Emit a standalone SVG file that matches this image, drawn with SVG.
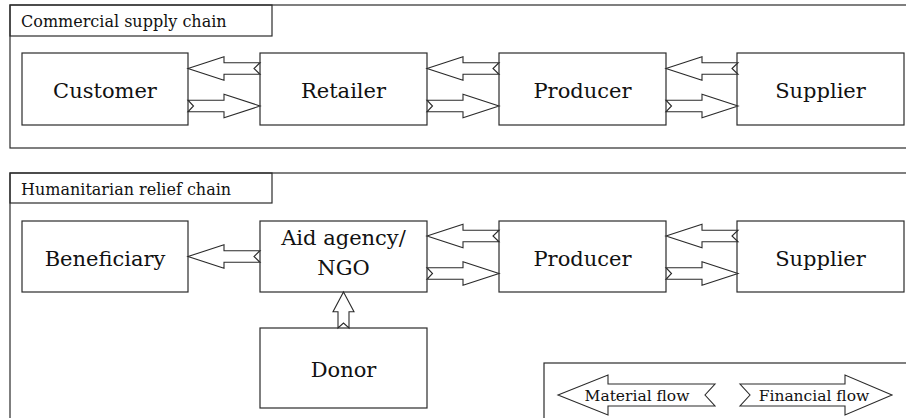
<svg xmlns="http://www.w3.org/2000/svg" xmlns:xlink="http://www.w3.org/1999/xlink" width="906" height="418" viewBox="0 0 906 418">
  <style>
    .frame { fill: none; stroke: #2b2b2b; stroke-width: 1.2; }
    .box { fill: #ffffff; stroke: #2b2b2b; stroke-width: 1.2; }
    .arrow { fill: #ffffff; stroke: #2b2b2b; stroke-width: 1.1; stroke-linejoin: miter; }
    .title { font-family: "DejaVu Serif", serif; font-size: 16px; fill: #111; }
    .label { font-family: "DejaVu Serif", serif; font-size: 21px; fill: #111; text-anchor: middle; }
    .legend { font-family: "DejaVu Serif", serif; font-size: 15.5px; fill: #111; text-anchor: middle; }
  </style>
  <defs>
    <!-- material flow: points left, tip at origin -->
    <path id="matArrow" d="M0,0 L36,-11.75 L36,-5.75 L72,-5.75 L66,0 L72,5.75 L36,5.75 L36,11.75 Z"/>
    <!-- financial flow: points right, notched tail at origin -->
    <path id="finArrow" d="M0,-5.75 L36,-5.75 L36,-11.75 L72,0 L36,11.75 L36,5.75 L0,5.75 L5.5,0 Z"/>
  </defs>
  <rect width="906" height="418" fill="#ffffff"/>

  <!-- panel frames -->
  <g id="panel-commercial">
    <rect class="frame" x="10" y="5" width="910" height="143"/>
    <rect class="frame" x="10" y="5" width="262" height="31"/>
    <text class="title" x="21" y="27">Commercial supply chain</text>
  </g>
  <g id="panel-humanitarian">
    <rect class="frame" x="10" y="173" width="910" height="260"/>
    <rect class="frame" x="10" y="173" width="262" height="30"/>
    <text class="title" x="21" y="195">Humanitarian relief chain</text>
  </g>

  <!-- commercial chain nodes -->
  <g id="customer">
    <rect class="box" x="22" y="53" width="166" height="72"/>
    <text class="label" x="105" y="98">Customer</text>
  </g>
  <g id="retailer">
    <rect class="box" x="260" y="53" width="167" height="72"/>
    <text class="label" x="343.5" y="98">Retailer</text>
  </g>
  <g id="producer-commercial">
    <rect class="box" x="499" y="53" width="167" height="72"/>
    <text class="label" x="582.5" y="98">Producer</text>
  </g>
  <g id="supplier-commercial">
    <rect class="box" x="737" y="53" width="167" height="72"/>
    <text class="label" x="820.5" y="98">Supplier</text>
  </g>

  <!-- humanitarian chain nodes -->
  <g id="beneficiary">
    <rect class="box" x="22" y="221" width="166" height="71"/>
    <text class="label" x="105" y="266">Beneficiary</text>
  </g>
  <g id="aid-agency">
    <rect class="box" x="260" y="221" width="167" height="71"/>
    <text class="label" x="343.5" y="245">Aid agency/</text>
    <text class="label" x="343.5" y="275">NGO</text>
  </g>
  <g id="producer-humanitarian">
    <rect class="box" x="499" y="221" width="167" height="71"/>
    <text class="label" x="582.5" y="266">Producer</text>
  </g>
  <g id="supplier-humanitarian">
    <rect class="box" x="737" y="221" width="167" height="71"/>
    <text class="label" x="820.5" y="266">Supplier</text>
  </g>
  <g id="donor">
    <rect class="box" x="260" y="328" width="167" height="80"/>
    <text class="label" x="343.5" y="377">Donor</text>
  </g>

  <!-- flow connectors -->
  <g id="connectors">
    <use class="arrow" xlink:href="#matArrow" href="#matArrow" transform="translate(188,68.5)"/>
    <use class="arrow" xlink:href="#matArrow" href="#matArrow" transform="translate(427,68.5)"/>
    <use class="arrow" xlink:href="#matArrow" href="#matArrow" transform="translate(666,68.5)"/>
    <use class="arrow" xlink:href="#finArrow" href="#finArrow" transform="translate(188,106)"/>
    <use class="arrow" xlink:href="#finArrow" href="#finArrow" transform="translate(427,106)"/>
    <use class="arrow" xlink:href="#finArrow" href="#finArrow" transform="translate(666,106)"/>

    <use class="arrow" xlink:href="#matArrow" href="#matArrow" transform="translate(188,256.5)"/>
    <use class="arrow" xlink:href="#matArrow" href="#matArrow" transform="translate(427,236)"/>
    <use class="arrow" xlink:href="#matArrow" href="#matArrow" transform="translate(666,236)"/>
    <use class="arrow" xlink:href="#finArrow" href="#finArrow" transform="translate(427,273.5)"/>
    <use class="arrow" xlink:href="#finArrow" href="#finArrow" transform="translate(666,273.5)"/>

    <!-- donor to aid agency -->
    <path class="arrow" d="M343.5,292 L354,311.7 L349,311.7 L349,328 L343.5,323 L338,328 L338,311.7 L333,311.7 Z"/>
  </g>

  <!-- legend -->
  <g id="legend">
    <rect class="frame" x="544" y="363" width="400" height="80"/>
    <path class="arrow" d="M558,395 L608,375 L608,384 L715,384 L705,395 L715,406 L608,406 L608,415 Z"/>
    <text class="legend" x="637" y="400.5">Material flow</text>
    <path class="arrow" d="M740,384 L845,384 L845,375 L892,395 L845,415 L845,406 L740,406 L750,395 Z"/>
    <text class="legend" x="814" y="400.5">Financial flow</text>
  </g>
</svg>
